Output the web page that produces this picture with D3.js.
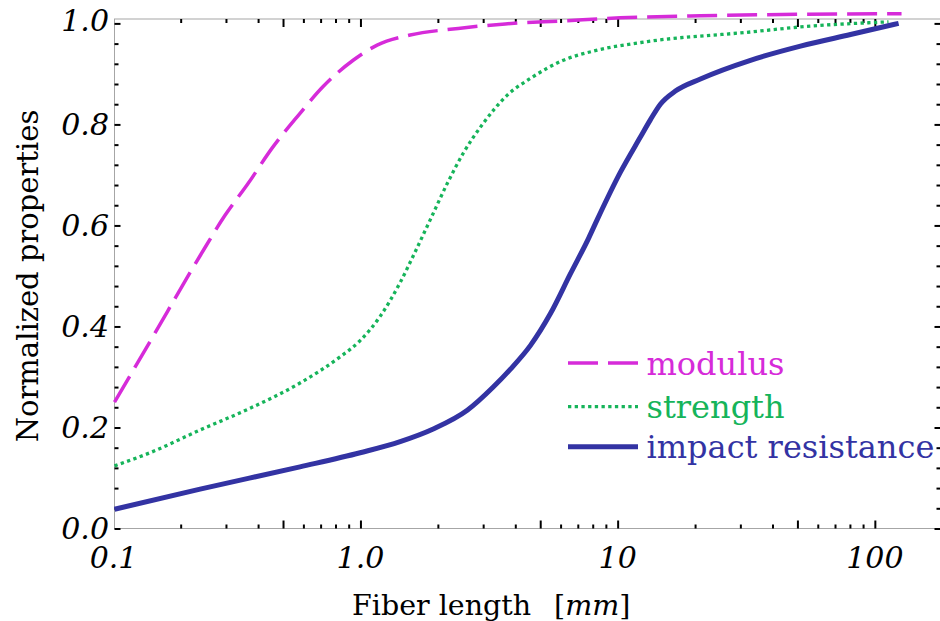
<!DOCTYPE html>
<html><head><meta charset="utf-8">
<script src="https://cdn.jsdelivr.net/npm/d3@7"></script>
<style>body{margin:0;background:#fff}svg{display:block}</style>
</head><body>
<svg id="c" width="940" height="621"></svg>
<script>
// ---- data ----
const seriesNames = ["modulus", "strength", "impact resistance"];
const modulusX = [0.1106, 0.152, 0.238, 0.2975, 0.3656, 0.4533, 0.5671, 0.7159, 0.9367, 1.161, 1.561, 2.40, 3.656, 6.148, 10.24, 20.98, 51.39, 127];
const modulusY = [0.25, 0.37, 0.54, 0.62, 0.683, 0.753, 0.815, 0.875, 0.927, 0.957, 0.977, 0.99, 0.999, 1.005, 1.011, 1.015, 1.018, 1.019];
const strengthX = [0.1106, 0.152, 0.238, 0.372, 0.582, 0.834, 0.997, 1.193, 1.427, 1.633, 1.867, 2.175, 2.510, 3.001, 3.722, 4.575, 6.148, 8.337, 13.05, 32.84, 51.39, 113];
const strengthY = [0.124, 0.15, 0.195, 0.238, 0.288, 0.34, 0.372, 0.42, 0.487, 0.548, 0.611, 0.683, 0.743, 0.802, 0.858, 0.891, 0.927, 0.947, 0.964, 0.983, 0.993, 1.003];
const impactX = [0.1106, 0.238, 0.582, 0.997, 1.427, 1.919, 2.602, 3.283, 3.823, 4.575, 5.472, 6.563, 7.716, 8.337, 10.24, 12.26, 13.40, 14.66, 16.77, 20.98, 32.84, 51.39, 80.42, 123.7];
const impactY = [0.038, 0.078, 0.122, 0.15, 0.172, 0.197, 0.234, 0.28, 0.315, 0.362, 0.425, 0.505, 0.575, 0.612, 0.705, 0.775, 0.809, 0.84, 0.866, 0.89, 0.927, 0.955, 0.978, 1.0];

const xMajorTicks = [0.5, 1, 5, 10, 50, 100];
const xMinorTicks = [0.2, 0.3, 0.4, 0.6, 0.7, 0.8, 0.9, 2, 3, 4, 6, 7, 8, 9, 20, 30, 40, 60, 70, 80, 90];
const xLabelValues = [0.1, 1, 10, 100];
const xLabelTexts = ["0.1", "1.0", "10", "100"];
const yMajorTicks = [0, 0.2, 0.4, 0.6, 0.8, 1.0];
const yMinorTicks = [0.04, 0.08, 0.12, 0.16, 0.24, 0.28, 0.32, 0.36, 0.44, 0.48, 0.52, 0.56, 0.64, 0.68, 0.72, 0.76, 0.84, 0.88, 0.92, 0.96];
const yLabelTexts = ["0.0", "0.2", "0.4", "0.6", "0.8", "1.0"];

// ---- layout ----
const L = 114.5, R = 940.5, T = 19, B = 528.5;
const svg = d3.select("#c");
const x = d3.scaleLog().domain([0.1106, 180]).range([L, R]);
const y = d3.scaleLinear().domain([0, 1.0087]).range([B, T]);

const frame = "#a6a6a6";
svg.append("rect").attr("x", L).attr("y", T).attr("width", R - L).attr("height", B - T)
  .attr("fill", "none").attr("stroke", frame).attr("stroke-width", 1);

function styleAxis(g) {
  g.select(".domain").remove();
  g.selectAll(".tick line").attr("stroke", "#000").attr("stroke-width", 2);
  g.selectAll(".tick text").remove();
}
svg.append("g").attr("transform", `translate(0,${B})`)
  .call(d3.axisTop(x).tickValues(xMajorTicks).tickSize(8).tickFormat("")).call(styleAxis);
svg.append("g").attr("transform", `translate(0,${B})`)
  .call(d3.axisTop(x).tickValues(xMinorTicks).tickSize(4).tickFormat("")).call(styleAxis);
svg.append("g").attr("transform", `translate(0,${T})`)
  .call(d3.axisBottom(x).tickValues(xMajorTicks).tickSize(8).tickFormat("")).call(styleAxis);
svg.append("g").attr("transform", `translate(0,${T})`)
  .call(d3.axisBottom(x).tickValues(xMinorTicks).tickSize(4).tickFormat("")).call(styleAxis);
svg.append("g").attr("transform", `translate(${L},0)`)
  .call(d3.axisRight(y).tickValues(yMajorTicks).tickSize(6).tickFormat("")).call(styleAxis);
svg.append("g").attr("transform", `translate(${L},0)`)
  .call(d3.axisRight(y).tickValues(yMinorTicks).tickSize(4).tickFormat("")).call(styleAxis);
svg.append("g").attr("transform", `translate(${R},0)`)
  .call(d3.axisLeft(y).tickValues(yMajorTicks).tickSize(6).tickFormat("")).call(styleAxis);
svg.append("g").attr("transform", `translate(${R},0)`)
  .call(d3.axisLeft(y).tickValues(yMinorTicks).tickSize(4).tickFormat("")).call(styleAxis);

// tick labels
const tickFont = "DejaVu Serif";
svg.append("g").selectAll("text").data(xLabelValues).join("text")
  .attr("x", d => Math.max(x(d), L - 1))
  .attr("y", 568)
  .attr("text-anchor", "middle")
  .attr("font-family", tickFont).attr("font-style", "italic").attr("font-size", 30)
  .attr("fill", "#000")
  .text((d, i) => xLabelTexts[i]);
svg.append("g").selectAll("text").data(yMajorTicks).join("text")
  .attr("x", 109)
  .attr("y", d => y(d) + (d === 1 ? -3 : 0))
  .attr("dy", "0.36em")
  .attr("text-anchor", "end")
  .attr("font-family", tickFont).attr("font-style", "italic").attr("font-size", 30)
  .attr("fill", "#000")
  .text((d, i) => yLabelTexts[i]);

// axis titles
const xt = svg.append("text").attr("y", 615).attr("font-family", "DejaVu Serif")
  .attr("font-size", 28.5).attr("fill", "#000");
xt.append("tspan").attr("x", 352).text("Fiber length");
xt.append("tspan").attr("x", 554).text("[");
xt.append("tspan").attr("font-style", "italic").text("mm");
xt.append("tspan").text("]");

svg.append("text")
  .attr("transform", "translate(38,276) rotate(-90)")
  .attr("text-anchor", "middle")
  .attr("font-family", "DejaVu Serif").attr("font-size", 29).attr("fill", "#000")
  .text("Normalized properties");

// series
const colors = ["#d62bd9", "#16b45a", "#3333a3"];
const widths = [3.5, 3.3, 5];
const dashes = ["30,10", "3.3,3.4", null];
const series = [
  modulusX.map((v, i) => [v, modulusY[i]]),
  strengthX.map((v, i) => [v, strengthY[i]]),
  impactX.map((v, i) => [v, impactY[i]])
];
const line = d3.line().x(d => x(d[0])).y(d => y(d[1])).curve(d3.curveMonotoneX);
series.forEach((s, i) => {
  svg.append("path").datum(s).attr("d", line)
    .attr("fill", "none").attr("stroke", colors[i]).attr("stroke-width", widths[i])
    .attr("stroke-dasharray", dashes[i]);
});

// legend
const legY = [363, 406.7, 446.7];
seriesNames.forEach((n, i) => {
  svg.append("line").attr("x1", 568).attr("x2", 638).attr("y1", legY[i]).attr("y2", legY[i])
    .attr("stroke", colors[i]).attr("stroke-width", widths[i]).attr("stroke-dasharray", dashes[i]);
  svg.append("text").attr("x", 646.5).attr("y", legY[i] + 11.7)
    .attr("font-family", "DejaVu Serif").attr("font-size", 32).attr("fill", colors[i])
    .text(n);
});
</script>
</body></html>
